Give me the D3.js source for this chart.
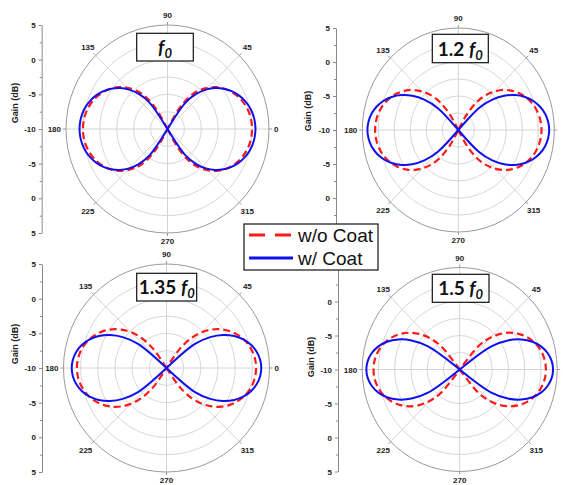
<!DOCTYPE html>
<html><head><meta charset="utf-8">
<script src="https://cdn.jsdelivr.net/npm/d3@7"></script>
<style>body{margin:0;background:#fff}svg{display:block}</style>
</head><body>
<svg id="c" width="563" height="485"></svg>
<script>
// ---- DATA ----
const angles = [0,5,10,15,20,25,30,35,40,45,50,55,60,65,70,75,80,85,90,95,100,105,110,115,120,125,130,135,140,145,150,155,160,165,170,175,180,185,190,195,200,205,210,215,220,225,230,235,240,245,250,255,260,265,270,275,280,285,290,295,300,305,310,315,320,325,330,335,340,345,350,355];
const seriesNames = ["w/o Coat", "w/ Coat"];
const titlePrefix = ["", "1.2 ", "1.35 ", "1.5 "];
const angleLabels = [0,45,90,135,180,225,270,315];
const axisPos = [-15,-10,-5,0,5,10,15];
const axisLabels = ["5","0","-5","-10","-5","0","5"];
const axisMinor = [-12.5,-7.5,-2.5,2.5,7.5,12.5];
const gridLevels = [-7.5,-5,-2.5,0,2.5];

// Gain (dB) at each angle; -10 = centre of plot
// f0
const f0_woCoat = [2.5,2.45,2.32,2.09,1.77,1.34,0.82,0.17,-0.61,-1.6,-2.73,-4.27,-6.74,-10,-10,-10,-10,-10,-10,-10,-10,-10,-10,-10,-6.74,-4.27,-2.73,-1.6,-0.61,0.17,0.82,1.34,1.77,2.09,2.32,2.45,2.5,2.45,2.32,2.09,1.77,1.34,0.82,0.17,-0.61,-1.6,-2.73,-4.27,-6.74,-10,-10,-10,-10,-10,-10,-10,-10,-10,-10,-10,-6.74,-4.27,-2.73,-1.6,-0.61,0.17,0.82,1.34,1.77,2.09,2.32,2.45];
const f0_wCoat  = [3.0,2.94,2.78,2.5,2.1,1.58,0.93,0.14,-0.81,-1.96,-3.39,-5.3,-10,-10,-10,-10,-10,-10,-10,-10,-10,-10,-10,-10,-10,-5.3,-3.39,-1.96,-0.81,0.14,0.93,1.58,2.1,2.5,2.78,2.94,3.0,2.94,2.78,2.5,2.1,1.58,0.93,0.14,-0.81,-1.96,-3.39,-5.3,-10,-10,-10,-10,-10,-10,-10,-10,-10,-10,-10,-10,-10,-5.3,-3.39,-1.96,-0.81,0.14,0.93,1.58,2.1,2.5,2.78,2.94];
// 1.2 f0
const f12_woCoat = [3.0,2.94,2.77,2.48,2.07,1.55,0.89,0.1,-0.84,-2.01,-3.3,-4.99,-7.48,-10,-10,-10,-10,-10,-10,-10,-10,-10,-10,-10,-7.48,-4.99,-3.3,-2.01,-0.84,0.1,0.89,1.55,2.07,2.48,2.77,2.94,3.0,2.94,2.77,2.48,2.07,1.55,0.89,0.1,-0.84,-2.01,-3.3,-4.99,-7.48,-10,-10,-10,-10,-10,-10,-10,-10,-10,-10,-10,-7.48,-4.99,-3.3,-2.01,-0.84,0.1,0.89,1.55,2.07,2.48,2.77,2.94];
const f12_wCoat  = [4.2,4.09,3.77,3.23,2.48,1.49,0.27,-1.23,-3.06,-5.42,-10,-10,-10,-10,-10,-10,-10,-10,-10,-10,-10,-10,-10,-10,-10,-10,-10,-5.42,-3.06,-1.23,0.27,1.49,2.48,3.23,3.77,4.09,4.2,4.09,3.77,3.23,2.48,1.49,0.27,-1.23,-3.06,-5.42,-10,-10,-10,-10,-10,-10,-10,-10,-10,-10,-10,-10,-10,-10,-10,-10,-10,-5.42,-3.06,-1.23,0.27,1.49,2.48,3.23,3.77,4.09];
// 1.35 f0
const f135_woCoat = [3.05,2.98,2.79,2.46,2.0,1.39,0.64,-0.27,-1.37,-2.7,-4.35,-6.68,-10,-10,-10,-10,-10,-10,-10,-10,-10,-10,-10,-10,-10,-6.68,-4.35,-2.7,-1.37,-0.27,0.64,1.39,2.0,2.46,2.79,2.98,3.05,2.98,2.79,2.46,2.0,1.39,0.64,-0.27,-1.37,-2.7,-4.35,-6.68,-10,-10,-10,-10,-10,-10,-10,-10,-10,-10,-10,-10,-10,-6.68,-4.35,-2.7,-1.37,-0.27,0.64,1.39,2.0,2.46,2.79,2.98];
const f135_wCoat  = [3.8,3.69,3.35,2.78,1.97,0.89,-0.48,-2.23,-4.59,-10,-10,-10,-10,-10,-10,-10,-10,-10,-10,-10,-10,-10,-10,-10,-10,-10,-10,-10,-4.59,-2.23,-0.48,0.89,1.97,2.78,3.35,3.69,3.8,3.69,3.35,2.78,1.97,0.89,-0.48,-2.23,-4.59,-10,-10,-10,-10,-10,-10,-10,-10,-10,-10,-10,-10,-10,-10,-10,-10,-10,-10,-10,-4.59,-2.23,-0.48,0.89,1.97,2.78,3.35,3.69];
// 1.5 f0
const f15_woCoat = [3.26,3.19,2.96,2.58,2.05,1.35,0.48,-0.57,-1.86,-3.44,-5.51,-10,-10,-10,-10,-10,-10,-10,-10,-10,-10,-10,-10,-10,-10,-10,-5.51,-3.44,-1.86,-0.57,0.48,1.35,2.05,2.58,2.96,3.19,3.26,3.19,2.96,2.58,2.05,1.35,0.48,-0.57,-1.86,-3.44,-5.51,-10,-10,-10,-10,-10,-10,-10,-10,-10,-10,-10,-10,-10,-10,-10,-5.51,-3.44,-1.86,-0.57,0.48,1.35,2.05,2.58,2.96,3.19];
const f15_wCoat  = [4.36,4.21,3.76,3.0,1.91,0.45,-1.45,-4.06,-10,-10,-10,-10,-10,-10,-10,-10,-10,-10,-10,-10,-10,-10,-10,-10,-10,-10,-10,-10,-10,-4.06,-1.45,0.45,1.91,3.0,3.76,4.21,4.36,4.21,3.76,3.0,1.91,0.45,-1.45,-4.06,-10,-10,-10,-10,-10,-10,-10,-10,-10,-10,-10,-10,-10,-10,-10,-10,-10,-10,-10,-10,-10,-4.06,-1.45,0.45,1.91,3.0,3.76,4.21];

// ---- LAYOUT ----
const panels = [
  {cx:167.5, cy:129, rx:101.5, ry:104, axisX:41.7, gainX:15, gainY:103, box:[136.7,33.3,56.6,27.7], red:f0_woCoat, blue:f0_wCoat},
  {cx:458.3, cy:130, rx:96, ry:102, axisX:336, gainX:308, gainY:111, box:[432.3,34.3,56,28.4], red:f12_woCoat, blue:f12_wCoat},
  {cx:166.5, cy:368, rx:103, ry:104, axisX:42, gainX:15, gainY:344, box:[136.7,273.3,60,27.7], red:f135_woCoat, blue:f135_wCoat},
  {cx:459.7, cy:369.5, rx:97.5, ry:102, axisX:338, gainX:311, gainY:357, box:[432.3,274.3,56.7,28], red:f15_woCoat, blue:f15_wCoat}
];
const legendBox = {x:244, y:224, w:134, h:46};
const inLegend = (x,y)=> x>=legendBox.x-2 && x<=legendBox.x+legendBox.w+2 && y>=legendBox.y-2 && y<=legendBox.y+legendBox.h+2;

const svg = d3.select("#c");
const W = 563;
const rS = d3.scaleLinear().domain([-10,5]).range([0,1]).clamp(true);
const rad = d => d*Math.PI/180;
const line = d3.line().x(d=>d[0]).y(d=>d[1]).curve(d3.curveCatmullRom.alpha(0.5));
const lblFont = "'Liberation Sans', Arial, sans-serif";

panels.forEach((p,i)=>{
  const g = svg.append("g");
  const px = (v,a)=> p.cx + p.rx*rS(v)*Math.cos(rad(a));
  const py = (v,a)=> p.cy - p.ry*rS(v)*Math.sin(rad(a));

  g.selectAll("ellipse.grid").data(gridLevels).join("ellipse")
    .attr("cx",p.cx).attr("cy",p.cy)
    .attr("rx",d=>p.rx*rS(d)).attr("ry",d=>p.ry*rS(d))
    .attr("fill","none").attr("stroke","#d2d2d2").attr("stroke-width",0.9);
  g.selectAll("line.spoke").data(angleLabels).join("line")
    .attr("x1",p.cx).attr("y1",p.cy)
    .attr("x2",a=>px(5,a)).attr("y2",a=>py(5,a))
    .attr("stroke","#cfcfcf").attr("stroke-width",0.9);
  g.append("ellipse").attr("cx",p.cx).attr("cy",p.cy).attr("rx",p.rx).attr("ry",p.ry)
    .attr("fill","none").attr("stroke","#9a9a9a").attr("stroke-width",1);
  g.selectAll("line.otick").data(angleLabels).join("line")
    .attr("x1",a=>px(5,a)).attr("y1",a=>py(5,a))
    .attr("x2",a=>p.cx+(p.rx+3)*Math.cos(rad(a))).attr("y2",a=>p.cy-(p.ry+3)*Math.sin(rad(a)))
    .attr("stroke","#9a9a9a").attr("stroke-width",1);

  const lx = a=>{
    if(a===0) return p.cx+p.rx+5;
    if(a===180) return p.cx-p.rx-5;
    if(a===90||a===270) return p.cx;
    return p.cx+1.11*p.rx*Math.cos(rad(a));
  };
  const ly = a=>{
    if(a===0||a===180) return p.cy+3;
    if(a===90) return p.cy-p.ry-7;
    if(a===270) return p.cy+p.ry+11;
    return p.cy-1.11*p.ry*Math.sin(rad(a))+3;
  };
  g.selectAll("text.ang").data(angleLabels.filter(a=>lx(a)<W-6)).join("text")
    .attr("font-family",lblFont).attr("font-weight","bold").attr("font-size",8).attr("fill","#222")
    .attr("text-anchor",a=> a===0?"start":(a===180?"end":"middle"))
    .attr("x",lx).attr("y",ly).text(a=>a);

  const yAx = d3.scaleLinear().domain([-15,15]).range([p.cy+p.ry, p.cy-p.ry]);
  const ax = g.append("g").attr("transform",`translate(${p.axisX},0)`)
    .call(d3.axisLeft(yAx).tickValues(axisPos).tickFormat((d,k)=>axisLabels[k]).tickSize(3).tickSizeOuter(0).tickPadding(3));
  ax.select(".domain").attr("stroke","#8a8a8a");
  ax.selectAll(".tick line").attr("stroke","#8a8a8a");
  ax.selectAll("text").attr("font-family",lblFont).attr("font-weight","bold").attr("font-size",8).attr("fill","#222");
  ax.selectAll(".tick").filter(d=>inLegend(p.axisX-8, yAx(d))).select("text").remove();
  const axm = g.append("g").attr("transform",`translate(${p.axisX},0)`)
    .call(d3.axisLeft(yAx).tickValues(axisMinor).tickFormat("").tickSize(2).tickSizeOuter(0));
  axm.select(".domain").remove();
  axm.selectAll(".tick line").attr("stroke","#8a8a8a");

  g.append("text").attr("transform",`translate(${p.gainX},${p.gainY}) rotate(-90)`)
    .attr("text-anchor","middle").attr("dy","0.35em")
    .attr("font-family",lblFont).attr("font-weight","bold").attr("font-size",9).attr("fill","#222")
    .text("Gain (dB)");

  // curves: one closed lobe on each side, drawn through the chart's scales
  const dedupe = pts => pts.filter((q,k)=> k===0 || Math.abs(q[0]-pts[k-1][0])>1e-6 || Math.abs(q[1]-pts[k-1][1])>1e-6);
  const lobes = vals => {
    const pts = angles.map((a,k)=>[px(vals[k],a), py(vals[k],a)]);
    return [dedupe([...pts.slice(54), ...pts.slice(0,19)]), dedupe(pts.slice(18,55))];
  };
  g.selectAll("path.red").data(lobes(p.red)).join("path")
    .attr("d",line).attr("fill","none").attr("stroke","#ff1a1a").attr("stroke-width",2.2)
    .attr("stroke-dasharray","7,4");
  g.selectAll("path.blue").data(lobes(p.blue)).join("path")
    .attr("d",line).attr("fill","none").attr("stroke","#1010ee").attr("stroke-width",2);

  const [bx,by,bw,bh] = p.box;
  g.append("rect").attr("x",bx).attr("y",by).attr("width",bw).attr("height",bh)
    .attr("fill","#fff").attr("stroke","#111").attr("stroke-width",1.2);
  const t = g.append("text").attr("x",bx+bw/2).attr("y",by+bh/2+7)
    .attr("text-anchor","middle").attr("font-family","Lato, 'Open Sans', sans-serif")
    .attr("font-weight","bold").attr("font-size",19).attr("fill","#111");
  if(titlePrefix[i]) t.append("tspan").text(titlePrefix[i]);
  t.append("tspan").attr("font-style","italic").text("f");
  t.append("tspan").attr("font-style","italic").attr("font-size",13).attr("dy",4).text("0");
});

// legend
const lg = svg.append("g");
lg.append("rect").attr("x",legendBox.x).attr("y",legendBox.y).attr("width",legendBox.w).attr("height",legendBox.h)
  .attr("fill","#fff").attr("stroke","#111").attr("stroke-width",1.2);
const legendColors = ["#ff1a1a","#1010ee"];
const legendDash = ["16,10",null];
seriesNames.forEach((n,k)=>{
  const y = 235 + k*23;
  lg.append("line").attr("x1",249).attr("x2",293).attr("y1",y).attr("y2",y)
    .attr("stroke",legendColors[k]).attr("stroke-width",3).attr("stroke-dasharray",legendDash[k]);
  lg.append("text").attr("x",298).attr("y",y+7)
    .attr("font-family",lblFont).attr("font-size",19).attr("fill","#111").text(n);
});
</script>
</body></html>
